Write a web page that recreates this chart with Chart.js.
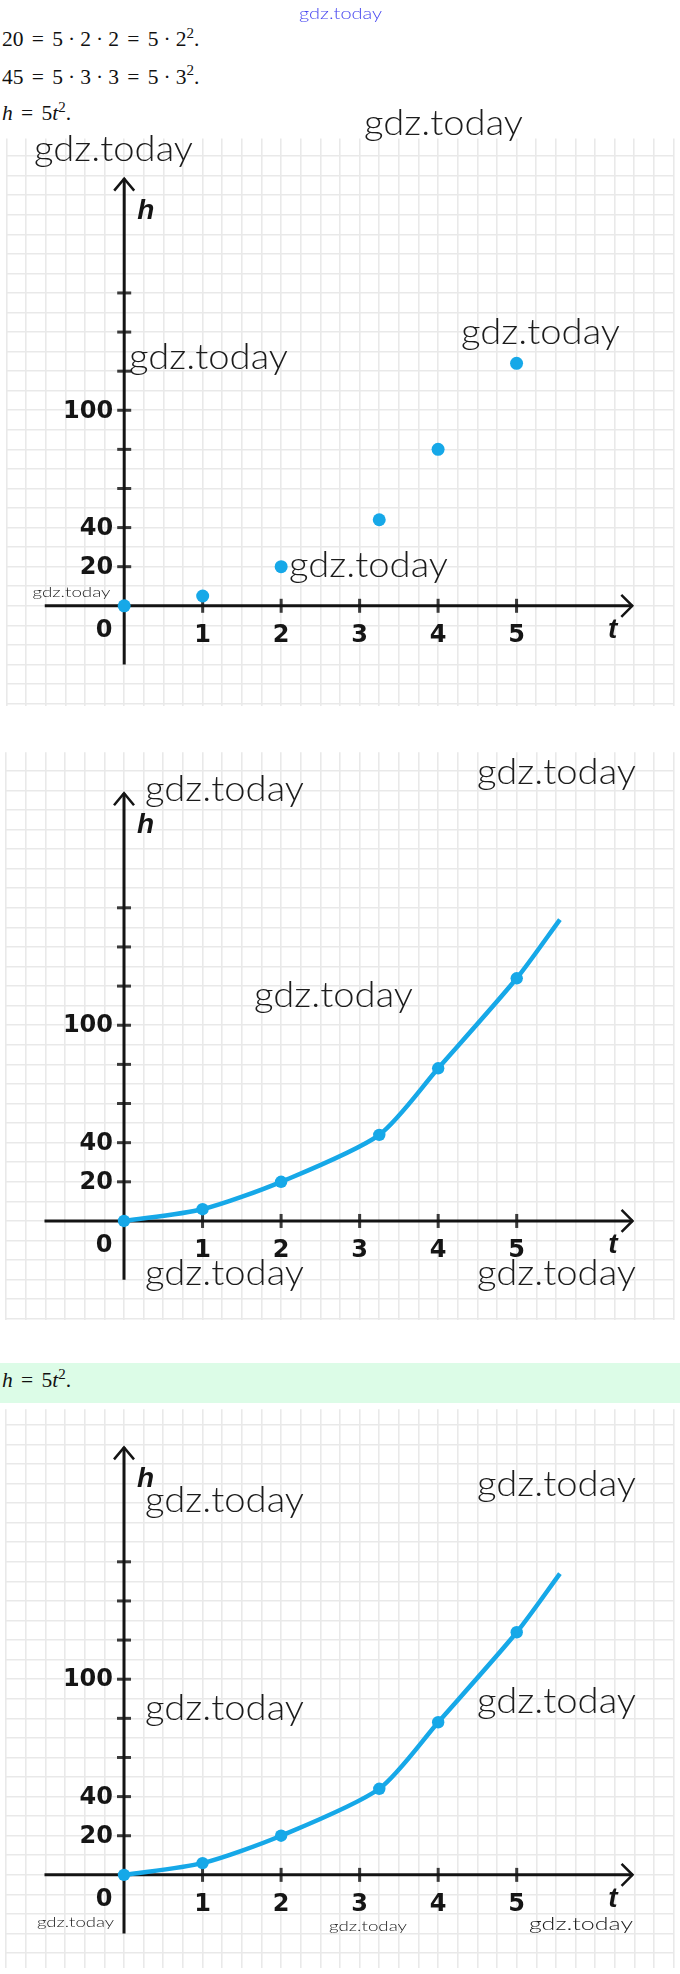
<!DOCTYPE html>
<html><head><meta charset="utf-8">
<script src="https://cdn.jsdelivr.net/npm/chart.js@4.4.1/dist/chart.umd.min.js"></script>
<style>
html,body{margin:0;padding:0;background:#fff;}
body{width:680px;height:1974px;position:relative;overflow:hidden;}
.math{position:absolute;left:2px;font-family:"Liberation Serif","Times New Roman","DejaVu Serif",serif;font-size:21.5px;color:#111;white-space:nowrap;line-height:1;}
.math i{font-style:italic;font-family:"Liberation Serif","Times New Roman",serif}
.math .rel{margin:0 0.385em}
.math .bin{margin:0 0.236em}
.math sup{font-size:0.7em;position:relative;top:-0.55em;vertical-align:baseline;line-height:0}
.band{position:absolute;left:0;top:1363px;width:680px;height:40px;background:#dcfce7;}
.chartbox{position:absolute;left:0;width:680px;}
.chartbox canvas{display:block;}
#wm{position:absolute;left:0;top:0;pointer-events:none;}
</style></head>
<body>
<div class="math" style="top:29px">20<span class="rel">=</span>5<span class="bin">·</span>2<span class="bin">·</span>2<span class="rel">=</span>5<span class="bin">·</span>2<sup>2</sup>.</div>
<div class="math" style="top:66.5px">45<span class="rel">=</span>5<span class="bin">·</span>3<span class="bin">·</span>3<span class="rel">=</span>5<span class="bin">·</span>3<sup>2</sup>.</div>
<div class="math" style="top:103px"><i>h</i><span class="rel">=</span>5<i>t</i><sup>2</sup>.</div>
<div class="band"></div>
<div class="math" style="top:1370px"><i>h</i><span class="rel">=</span>5<i>t</i><sup>2</sup>.</div>

<div class="chartbox" style="top:132px;height:580px"><canvas id="c1" width="680" height="580"></canvas></div>
<div class="chartbox" style="top:746px;height:580px"><canvas id="c2" width="680" height="580"></canvas></div>
<div class="chartbox" style="top:1403px;height:571px"><canvas id="c3" width="680" height="571"></canvas></div>
<svg id="wm" width="680" height="1974" xmlns="http://www.w3.org/2000/svg"></svg>

<script>
// ---- data ----
const tickT = [1, 2, 3, 4, 5];
const tickLabelsT = ['1', '2', '3', '4', '5'];
const tickH = [20, 40, 60, 80, 100, 120, 140, 160];
const tickLabelsH = ['20', '40', '', '', '100', '', '', ''];
const dotsT = [0, 1, 2, 3.25, 4, 5];
const dotsH = [0, 5, 20, 44, 80, 124];
const curveT = [0, 1, 2, 3.25, 4, 5, 5.55];
const curveH = [0, 6, 20, 44, 78, 124, 154];
const curveMarkedCount = 6;

// ---- geometry / style ----
const BLUE = '#16a8e8';
const PX_PER_T = 80, PX_PER_H = 2, ORIGIN_X = 120, W = 680;
const AXIS = { xStart: -1.0125, xEnd: 6.475, yBottom: -30, yTop: 218.5, tLabelT: 6.225 };

function pts(xs, ys) { return xs.map((v, i) => ({ x: v, y: ys[i] })); }

const axesPlugin = {
  id: 'mathAxes',
  beforeDatasetsDraw(chart) {
    const { ctx, scales: { x, y } } = chart;
    const ox = x.getPixelForValue(0), oy = y.getPixelForValue(0);
    ctx.save();
    ctx.lineCap = 'butt';
    ctx.strokeStyle = '#3a3a3a'; ctx.lineWidth = 3;
    tickT.forEach(v => { const px = x.getPixelForValue(v); ctx.beginPath(); ctx.moveTo(px, oy - 7); ctx.lineTo(px, oy + 7); ctx.stroke(); });
    tickH.forEach(v => { const py = y.getPixelForValue(v); ctx.beginPath(); ctx.moveTo(ox - 7, py); ctx.lineTo(ox + 7, py); ctx.stroke(); });
    ctx.strokeStyle = '#141414'; ctx.lineWidth = 3;
    const xe = x.getPixelForValue(AXIS.xEnd), yt = y.getPixelForValue(AXIS.yTop);
    ctx.beginPath(); ctx.moveTo(x.getPixelForValue(AXIS.xStart), oy); ctx.lineTo(xe, oy); ctx.stroke();
    ctx.beginPath(); ctx.moveTo(ox, y.getPixelForValue(AXIS.yBottom)); ctx.lineTo(ox, yt); ctx.stroke();
    ctx.lineWidth = 2.5; ctx.lineJoin = 'miter';
    ctx.beginPath(); ctx.moveTo(xe - 11, oy - 11); ctx.lineTo(xe, oy); ctx.lineTo(xe - 11, oy + 11); ctx.stroke();
    ctx.beginPath(); ctx.moveTo(ox - 10, yt + 12); ctx.lineTo(ox, yt); ctx.lineTo(ox + 10, yt + 12); ctx.stroke();
    ctx.fillStyle = '#151515';
    ctx.font = 'bold 24px "DejaVu Sans", sans-serif';
    ctx.textAlign = 'center'; ctx.textBaseline = 'alphabetic';
    tickT.forEach((v, i) => ctx.fillText(tickLabelsT[i], x.getPixelForValue(v), oy + 36));
    ctx.fillText('0', ox - 20, oy + 31);
    ctx.textAlign = 'right'; ctx.textBaseline = 'middle';
    tickH.forEach((v, i) => { if (tickLabelsH[i]) ctx.fillText(tickLabelsH[i], ox - 11, y.getPixelForValue(v) + 1); });
    ctx.font = 'italic bold 28px "Liberation Sans", Arial, sans-serif';
    ctx.textAlign = 'left'; ctx.textBaseline = 'alphabetic';
    ctx.fillText('h', ox + 13, yt + 40);
    ctx.textAlign = 'center';
    ctx.fillText('t', x.getPixelForValue(AXIS.tLabelT), oy + 32);
    ctx.restore();
  }
};

function gridTicks(step) {
  return scale => {
    const out = [];
    const start = Math.ceil(scale.min / step - 1e-9);
    const end = Math.floor(scale.max / step + 1e-9);
    for (let k = start; k <= end; k++) out.push({ value: +(k * step).toFixed(6) });
    scale.ticks = out;
  };
}

function makeChart(id, height, axisOffset, datasets) {
  const gridStyle = { color: '#e9e9e9', lineWidth: 1.6, drawTicks: false };
  return new Chart(document.getElementById(id), {
    type: 'line',
    data: { datasets },
    plugins: [axesPlugin],
    options: {
      responsive: false, animation: false, devicePixelRatio: 1,
      layout: { padding: 0 },
      plugins: { legend: { display: false }, tooltip: { enabled: false } },
      events: [],
      scales: {
        x: {
          type: 'linear', min: -ORIGIN_X / PX_PER_T, max: (W - ORIGIN_X) / PX_PER_T,
          grid: gridStyle, border: { display: false },
          ticks: { display: false, autoSkip: false, stepSize: 0.25 },
          afterBuildTicks: gridTicks(0.25)
        },
        y: {
          type: 'linear', min: -(height - axisOffset) / PX_PER_H, max: axisOffset / PX_PER_H,
          grid: gridStyle, border: { display: false },
          ticks: { display: false, autoSkip: false, stepSize: 10 },
          afterBuildTicks: gridTicks(10)
        }
      }
    }
  });
}

makeChart('c1', 580, 478, [{
  data: pts(dotsT, dotsH), showLine: false,
  pointRadius: 6.5, pointBackgroundColor: BLUE, pointBorderWidth: 0, borderWidth: 0
}]);

function curveDataset() {
  return {
    data: pts(curveT, curveH), borderColor: BLUE, borderWidth: 4.5,
    tension: 0.25, fill: false,
    pointRadius: c => (c.dataIndex < curveMarkedCount ? 6.2 : 0),
    pointBackgroundColor: BLUE, pointBorderWidth: 0
  };
}
makeChart('c2', 580, 479, [curveDataset()]);
makeChart('c3', 571, 476, [curveDataset()]);

// ---- watermarks (text overlay) ----
const svg = document.getElementById('wm');
const WM = [
  { x: 299, y: 18.5, w: 83, s: 16, c: '#4646f0' },
  { x: 364, y: 135, w: 159, s: 35 }, { x: 34, y: 161, w: 159, s: 35 },
  { x: 129, y: 369, w: 159, s: 35 }, { x: 461, y: 344, w: 159, s: 35 },
  { x: 289, y: 577, w: 159, s: 35 }, { x: 32.5, y: 597, w: 78, s: 14 },
  { x: 145, y: 801, w: 159, s: 35 }, { x: 477, y: 784, w: 159, s: 35 },
  { x: 254, y: 1007, w: 159, s: 35 }, { x: 145, y: 1285, w: 159, s: 35 },
  { x: 477, y: 1285, w: 159, s: 35 },
  { x: 145, y: 1512, w: 159, s: 35 }, { x: 477, y: 1496, w: 159, s: 35 },
  { x: 145, y: 1720, w: 159, s: 35 }, { x: 477, y: 1713, w: 159, s: 35 },
  { x: 37, y: 1927, w: 77, s: 14 }, { x: 329, y: 1931, w: 78, s: 14 },
  { x: 529, y: 1930, w: 104, s: 18 }
];
WM.forEach(m => {
  const t = document.createElementNS('http://www.w3.org/2000/svg', 'text');
  t.setAttribute('x', m.x); t.setAttribute('y', m.y);
  t.setAttribute('textLength', m.w); t.setAttribute('lengthAdjust', 'spacingAndGlyphs');
  t.setAttribute('font-family', 'Lato, "Open Sans", sans-serif');
  t.setAttribute('font-weight', '300');
  t.setAttribute('font-size', m.s);
  t.setAttribute('fill', m.c || '#1c1c1c');
  t.textContent = 'gdz.today';
  svg.appendChild(t);
});
</script>
</body></html>
